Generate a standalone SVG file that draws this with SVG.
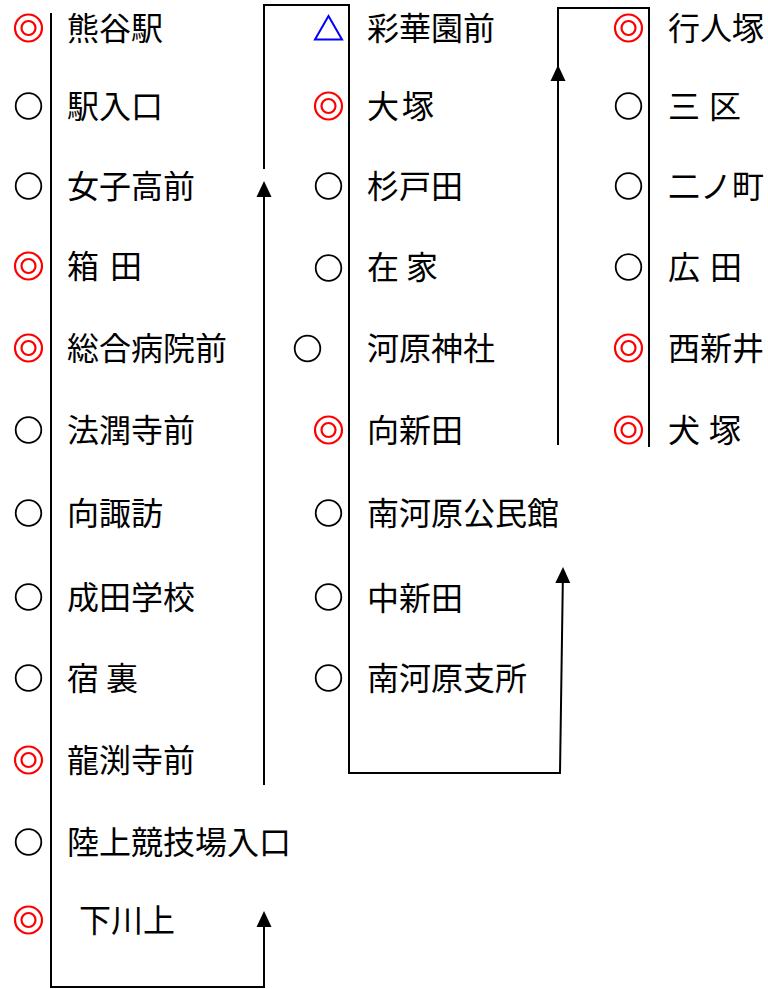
<svg xmlns="http://www.w3.org/2000/svg" width="768" height="989" viewBox="0 0 768 989">
<style>
text{font-family:"Noto Sans CJK JP","Noto Sans CJK SC",sans-serif;font-size:32px;fill:#000}
.st{fill:none;stroke:#000;stroke-width:1.8}
.dbl{fill:none;stroke:#f00;stroke-width:2.2}
.tri{fill:none;stroke:#00f;stroke-width:2}
.ln{fill:none;stroke:#000;stroke-width:2}
</style>
<defs>
<marker id="ah" markerUnits="userSpaceOnUse" markerWidth="16" markerHeight="16" refX="0" refY="7.5" orient="auto" viewBox="0 0 16 15">
<path d="M0,0 L16,7.5 L0,15 z" fill="#000"/>
</marker>
<g id="dblsym"><circle r="13.5" class="dbl"/><circle r="7" class="dbl"/></g>
<circle id="sgl" r="12.8" class="st"/>
</defs>

<g id="connectors">
<path class="ln" d="M51,13 V987 H264 V927" marker-end="url(#ah)"/>
<path class="ln" d="M264,785 V197" marker-end="url(#ah)"/>
<path class="ln" d="M264,169 V5 H349 V773 H560 L562.8,583" marker-end="url(#ah)"/>
<path class="ln" d="M558,445 V81" marker-end="url(#ah)"/>
<path class="ln" d="M558,81 V8 H649 V447"/>
</g>

<g id="col1">
<g id="n-kumagaya"><use href="#dblsym" x="28.5" y="28"/><text x="67" y="40">熊谷駅</text></g>
<g id="n-ekiiriguchi"><use href="#sgl" x="28.5" y="106"/><text x="67" y="118">駅入口</text></g>
<g id="n-joshiko"><use href="#sgl" x="28.5" y="186"/><text x="67" y="198">女子高前</text></g>
<g id="n-hakoda"><use href="#dblsym" x="28.5" y="266"/><text x="67" y="278">箱<tspan x="110">田</tspan></text></g>
<g id="n-sogobyoin"><use href="#dblsym" x="28.5" y="348"/><text x="67" y="360">総合病院前</text></g>
<g id="n-hojunji"><use href="#sgl" x="28.5" y="430"/><text x="67" y="442">法潤寺前</text></g>
<g id="n-mukaisuwa"><use href="#sgl" x="28.5" y="513"/><text x="67" y="525">向諏訪</text></g>
<g id="n-naritagakko"><use href="#sgl" x="28.5" y="597"/><text x="67" y="609">成田学校</text></g>
<g id="n-shukuura"><use href="#sgl" x="28.5" y="678"/><text x="67" y="690">宿<tspan x="106">裏</tspan></text></g>
<g id="n-ryuenji"><use href="#dblsym" x="28.5" y="760"/><text x="67" y="772">龍渕寺前</text></g>
<g id="n-rikujo"><use href="#sgl" x="28.5" y="842"/><text x="67" y="854">陸上競技場入口</text></g>
<g id="n-shimokawakami"><use href="#dblsym" x="28.5" y="920"/><text x="79" y="932">下川上</text></g>
</g>

<g id="col2">
<g id="n-saikaen"><path class="tri" d="M328.5,16 L315,39.5 L342,39.5 Z"/><text x="367" y="40">彩華園前</text></g>
<g id="n-otsuka"><use href="#dblsym" x="328.5" y="106"/><text x="367" y="118">大<tspan x="402">塚</tspan></text></g>
<g id="n-sugitoda"><use href="#sgl" x="328.5" y="186"/><text x="367" y="198">杉戸田</text></g>
<g id="n-zaike"><use href="#sgl" x="328.5" y="268"/><text x="367" y="279">在<tspan x="406">家</tspan></text></g>
<g id="n-kawarajinja"><use href="#sgl" x="307.5" y="348.5"/><text x="367" y="360">河原神社</text></g>
<g id="n-mukaishinden"><use href="#dblsym" x="328.5" y="430"/><text x="367" y="442">向新田</text></g>
<g id="n-minamikawarakominkan"><use href="#sgl" x="328.5" y="513"/><text x="367" y="525">南河原公民館</text></g>
<g id="n-nakashinden"><use href="#sgl" x="328.5" y="597"/><text x="367" y="610">中新田</text></g>
<g id="n-minamikawarashisho"><use href="#sgl" x="328.5" y="678"/><text x="367" y="690">南河原支所</text></g>
</g>

<g id="col3">
<g id="n-gyonindzuka"><use href="#dblsym" x="628.5" y="28"/><text x="668" y="40">行人塚</text></g>
<g id="n-sanku"><use href="#sgl" x="628.5" y="106"/><text x="668" y="118">三<tspan x="709">区</tspan></text></g>
<g id="n-ninomachi"><use href="#sgl" x="628.5" y="186"/><text x="668" y="198">二ノ町</text></g>
<g id="n-hirota"><use href="#sgl" x="628.5" y="267"/><text x="668" y="279">広<tspan x="710">田</tspan></text></g>
<g id="n-nishiarai"><use href="#dblsym" x="628.5" y="348"/><text x="668" y="360">西新井</text></g>
<g id="n-inuzuka"><use href="#dblsym" x="628.5" y="430"/><text x="668" y="442">犬<tspan x="709">塚</tspan></text></g>
</g>
</svg>
